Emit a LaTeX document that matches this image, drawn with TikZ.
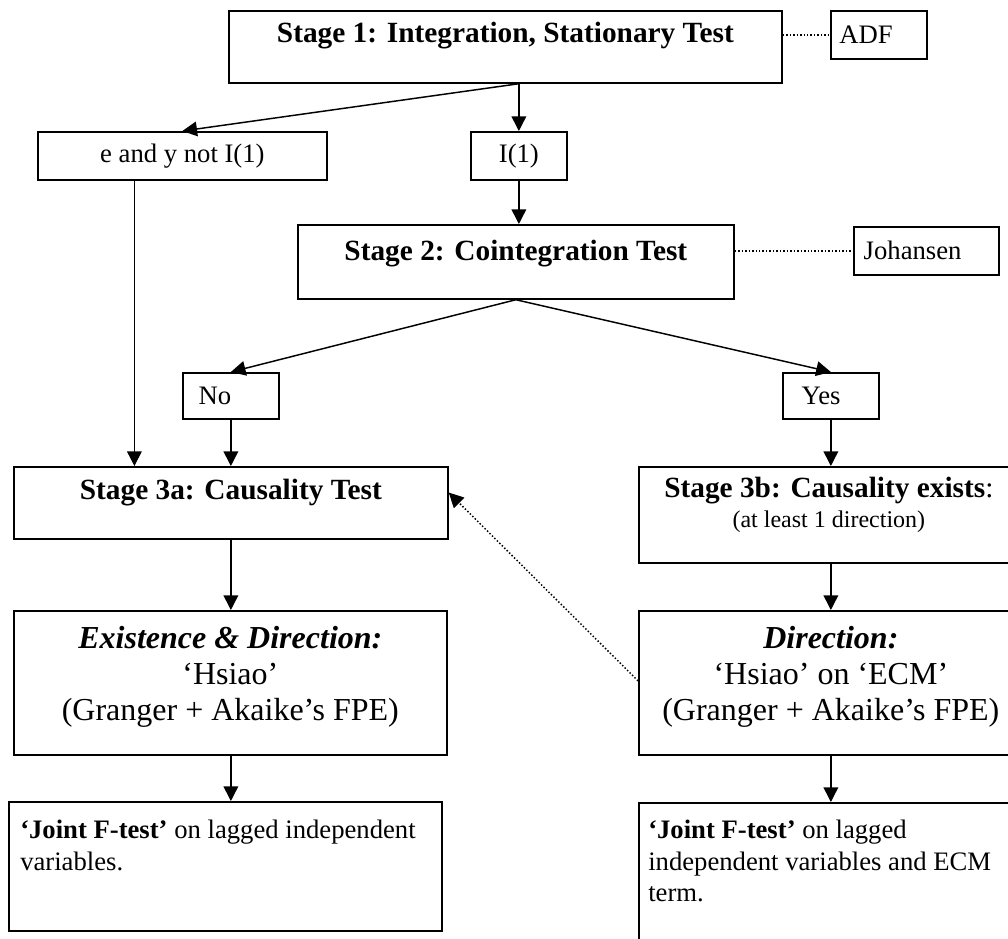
\documentclass[tikz,border=0pt]{standalone}
\usepackage{fontspec}
\setmainfont{Liberation Serif}
\usepackage{tikz}
\usetikzlibrary{arrows.meta,calc}

\begin{document}
\begin{tikzpicture}[x=0.75pt,y=-0.75pt,
  box/.style 2 args={draw,line width=1.3pt,anchor=north west,inner sep=0pt,
    minimum width=#1*0.75pt,minimum height=#2*0.75pt},
  hd/.style={font=\fontsize{22}{24}\selectfont\bfseries},
  tx/.style={font=\fontsize{20}{24}\selectfont},
  big/.style={font=\fontsize{24}{27}\selectfont,align=center},
  par/.style={font=\fontsize{20}{23.5}\selectfont,align=left,inner sep=0pt},
  arr/.style={line width=1.1pt,-{Triangle[length=11pt,width=11pt]}},
  dot/.style={line width=1.1pt,dash pattern=on 1.1pt off 1.5pt}]
\clip (0,0) rectangle (1008,939);
\fill[white] (0,0) rectangle (1008,939);

% stage 1 and unit root test
\node[box={553}{72},label={[hd,anchor=center,yshift=-19.5pt]north:{Stage 1: Integration, Stationary Test}}] (st1) at (228,10) {};
\node[box={96}{48},label={[tx,anchor=west,xshift=3.5pt]west:ADF}] (adf) at (830,10) {};
\node[box={289}{48},tx] (ey) at (37,131) {e and y not I(1)};
\node[box={96}{48},tx] (i1) at (470,131) {I(1)};

% stage 2
\node[box={436}{74},label={[hd,anchor=center,yshift=-22.5pt]north:{Stage 2: Cointegration Test}}] (st2) at (297,224) {};
\node[box={145}{48},label={[tx,anchor=west,xshift=4.5pt]west:Johansen}] (joh) at (853,226) {};
\node[box={96}{46},label={[tx,anchor=west,xshift=9pt]west:No}] (no) at (182,372) {};
\node[box={96}{46},label={[tx,anchor=west,xshift=11.25pt]west:Yes}] (yes) at (782,372) {};

% stage 3
\node[box={434}{72},label={[hd,anchor=center,yshift=-20pt]north:{Stage 3a: Causality Test}}] (st3a) at (13,466) {};
\node[box={384}{96},label={[font=\fontsize{22}{22.5}\selectfont,align=center,anchor=center,yshift=-29pt,xshift=-1.5pt]north:{{\bfseries Stage 3b: Causality exists}:\\{\fontsize{18}{22.5}\selectfont(at least 1 direction)}}}] (st3b) at (638,466) {};
\node[box={433}{144},label={[big,anchor=center,yshift=-50.25pt]north:{\textbf{\textit{Existence \& Direction:}}\\‘Hsiao’\\(Granger + Akaike’s FPE)}}] (ed) at (13,610) {};
\node[box={384}{144},label={[big,anchor=center,yshift=-50.25pt]north:{\textbf{\textit{Direction:}}\\‘Hsiao’ on ‘ECM’\\(Granger + Akaike’s FPE)}}] (dir) at (638,610) {};
\node[box={433}{129},label={[par,anchor=north west,xshift=9pt,yshift=-14.25pt]north west:{\textbf{‘Joint F-test’} on lagged independent\\variables.}}] (jl) at (8,801) {};
\node[box={384}{160},label={[par,anchor=north west,xshift=7.5pt,yshift=-13.5pt]north west:{\textbf{‘Joint F-test’} on lagged\\independent variables and ECM\\term.}}] (jr) at (638,802) {};

% connectors
\draw[dot] (adf.west -| st1.east) -- (adf.west);
\draw[dot] (joh.west -| st2.east) -- (joh.west);
\draw[arr] (st1.south -| i1.north) -- (ey.north);
\draw[arr] (st1.south -| i1.north) -- (i1.north);
\draw[arr] (i1.south) -- (st2.north -| i1.south);
\draw[arr] (st2.south) -- (no.north);
\draw[arr] (st2.south) -- (yes.north);
\draw[arr] ($(ey.south west)!0.335!(ey.south east)$) coordinate (eyd) -- (st3a.north -| eyd);
\draw[arr] (no.south) -- (st3a.north -| no.south);
\draw[arr] (yes.south) -- (st3b.north -| yes.south);
\draw[arr] (st3a.south -| no.south) -- (ed.north -| no.south);
\draw[arr] (st3b.south -| yes.south) -- (dir.north -| yes.south);
\draw[arr] (ed.south -| no.south) -- (jl.north -| no.south);
\draw[arr] (dir.south -| yes.south) -- (jr.north -| yes.south);
\draw[dot,-{Triangle[length=11pt,width=11pt]}] ($(dir.north west)!0.486!(dir.south west)$) -- ($(st3a.north east)!0.36!(st3a.south east)$);
\end{tikzpicture}
\end{document}
